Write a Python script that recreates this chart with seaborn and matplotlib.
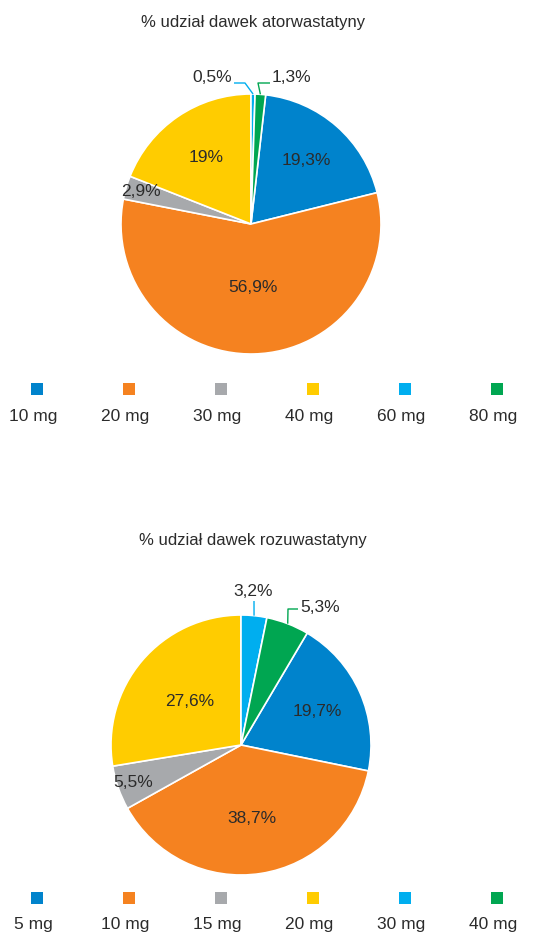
import numpy as np
import matplotlib
matplotlib.use('Agg')
import matplotlib.pyplot as plt
import seaborn as sns

sns.set_theme(style='white')
plt.rcParams['font.family'] = ['Liberation Sans', 'DejaVu Sans']

# ---- data ----
ator_labels = ['10 mg', '20 mg', '30 mg', '40 mg', '60 mg', '80 mg']
ator_values = [19.3, 56.9, 2.9, 19.0, 0.5, 1.3]
ator_text = ['19,3%', '56,9%', '2,9%', '19%', '0,5%', '1,3%']

rozu_labels = ['5 mg', '10 mg', '15 mg', '20 mg', '30 mg', '40 mg']
rozu_values = [19.7, 38.7, 5.5, 27.6, 3.2, 5.3]
rozu_text = ['19,7%', '38,7%', '5,5%', '27,6%', '3,2%', '5,3%']

colors = ['#0083CC', '#F58220', '#A7A9AC', '#FFCC00', '#00AEEF', '#00A651']
TXT = '#2b2b2b'
W, H = 540, 935


def Y(py):
    # pixel row (from top) -> data y
    return H - py


fig = plt.figure(figsize=(W / 100, H / 100), dpi=100)
ax = fig.add_axes([0, 0, 1, 1])


def draw_pie(values, texts, legend, center, title, title_y, legend_y,
             inner_dist, outside):
    cx, cy = center
    R = 130
    # first slice starts after the last two small slices (clockwise from top)
    offset = (values[-2] + values[-1]) / sum(values) * 360
    wedges, _ = ax.pie(values, colors=colors, startangle=90 - offset,
                       counterclock=False, center=(cx, Y(cy)), radius=R,
                       wedgeprops=dict(edgecolor='white', linewidth=1.2),
                       frame=True)
    for i, w in enumerate(wedges):
        mid = np.deg2rad((w.theta1 + w.theta2) / 2)
        if i in outside:
            # leader line: wedge edge -> elbow -> text
            tx, ty, ha, (x_elbow, x_end, y_line) = outside[i]
            ex = cx + R * np.cos(mid)
            ey = Y(cy) + R * np.sin(mid)
            ax.plot([ex, x_elbow, x_end], [ey, Y(y_line), Y(y_line)],
                    color=colors[i], lw=1, solid_capstyle='butt')
            ax.text(tx, Y(ty), texts[i], ha=ha, va='center',
                    fontsize=12.5, color=TXT)
        else:
            d = inner_dist[i] * R
            ax.text(cx + d * np.cos(mid), Y(cy) + d * np.sin(mid), texts[i],
                    ha='center', va='center', fontsize=12.5, color=TXT)
    ax.text(253, Y(title_y), title, ha='center', va='center',
            fontsize=12, color=TXT)
    xs = [37 + 92 * k for k in range(len(legend))]
    for k, lab in enumerate(legend):
        ax.scatter([xs[k]], [Y(legend_y)], marker='s', s=85, color=colors[k],
                   linewidths=0, zorder=3)
        ax.text(xs[k] - 4, Y(legend_y + 27), lab, ha='center', va='center',
                fontsize=12.5, color=TXT)


# top pie: atorvastatin
draw_pie(ator_values, ator_text, ator_labels, (251, 224),
         '% udział dawek atorwastatyny', 22, 389,
         {0: 0.65, 1: 0.49, 2: 0.88, 3: 0.62},
         {4: (232, 78, 'right', (245, 234, 83)),
          5: (272, 78, 'left', (258, 270, 83))})

# bottom pie: rosuvastatin
draw_pie(rozu_values, rozu_text, rozu_labels, (241, 745),
         '% udział dawek rozuwastatyny', 540, 898,
         {0: 0.64, 1: 0.57, 2: 0.88, 3: 0.52},
         {4: (253, 592, 'center', (254, 254, 601)),
          5: (300, 607, 'left', (288, 298, 609))})

ax.set_xlim(0, W)
ax.set_ylim(0, H)
ax.set_aspect('auto')
ax.axis('off')

fig.savefig('out.png', dpi=100, facecolor='white')
